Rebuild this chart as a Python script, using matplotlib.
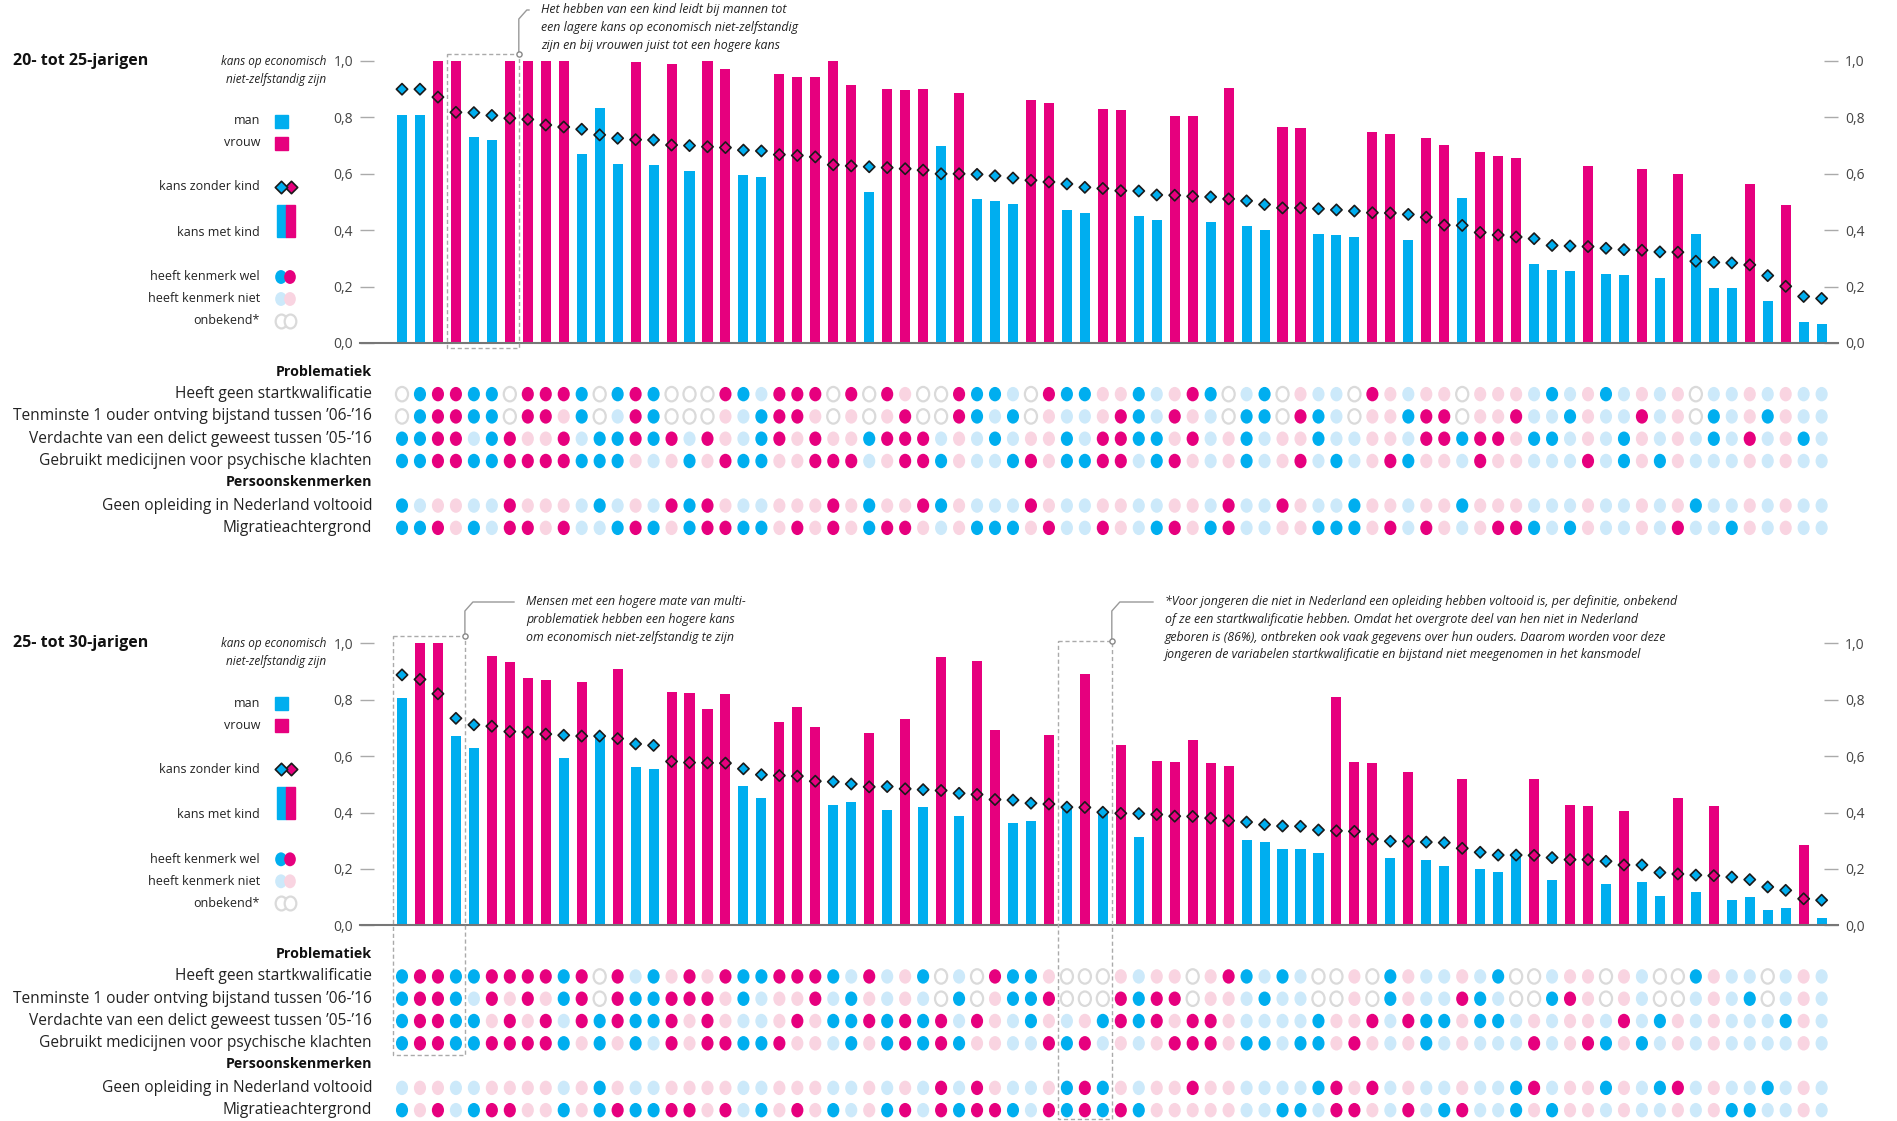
import numpy as np
import matplotlib
matplotlib.use("Agg")
import matplotlib.pyplot as plt
from matplotlib.path import Path
from matplotlib.patches import Rectangle

plt.rcParams['font.family'] = ['Open Sans', 'DejaVu Sans']

# -----------------------------
#  DATA
# -----------------------------
# m = man, v = vrouw (one letter per group, left to right)
TOP_SEX = ("mmvvmmvvvv" "mmmvmvmvvm" "mvvvvvmvvv" "mvmmmvvmmv"
           "vmmvvmvmmv" "vmmmvvmvvm" "vvvmmmvmmv" "mvmmmvmvmm")
BOT_SEX = ("mvvmmvvvvm" "vmvmmvvvvm" "mvvvmmvmvm" "vmvvmmvmvm"
           "vmvvvvvmmm" "mmvvvmvmmv" "mmmvmvvmvm" "mvmvmmmmvm")

# kans met kind (bars)
TOP_MET = [0.81, 0.81, 1.00, 1.00, 0.73, 0.72, 1.00, 1.00, 1.00, 1.00,
           0.67, 0.835, 0.635, 0.995, 0.63, 0.99, 0.61, 1.00, 0.97, 0.595,
           0.59, 0.955, 0.945, 0.945, 1.00, 0.915, 0.535, 0.90, 0.897, 0.90,
           0.697, 0.885, 0.509, 0.504, 0.494, 0.863, 0.852, 0.473, 0.461, 0.83,
           0.826, 0.449, 0.435, 0.804, 0.804, 0.428, 0.904, 0.414, 0.401, 0.766,
           0.764, 0.388, 0.383, 0.377, 0.748, 0.74, 0.366, 0.727, 0.703, 0.514,
           0.678, 0.664, 0.656, 0.28, 0.258, 0.257, 0.629, 0.246, 0.241, 0.616,
           0.232, 0.60, 0.387, 0.195, 0.195, 0.563, 0.15, 0.488, 0.076, 0.069]
# kans zonder kind (diamonds)
TOP_ZONDER = [0.90, 0.90, 0.872, 0.818, 0.817, 0.807, 0.797, 0.793, 0.773, 0.766,
              0.758, 0.738, 0.726, 0.721, 0.72, 0.702, 0.70, 0.696, 0.693, 0.684,
              0.681, 0.668, 0.665, 0.66, 0.632, 0.628, 0.625, 0.622, 0.618, 0.613,
              0.60, 0.60, 0.598, 0.593, 0.585, 0.577, 0.571, 0.564, 0.552, 0.548,
              0.54, 0.539, 0.525, 0.524, 0.52, 0.518, 0.511, 0.504, 0.491, 0.479,
              0.479, 0.476, 0.472, 0.468, 0.462, 0.461, 0.456, 0.446, 0.418, 0.417,
              0.392, 0.383, 0.376, 0.37, 0.346, 0.344, 0.342, 0.336, 0.331, 0.329,
              0.323, 0.322, 0.29, 0.286, 0.284, 0.277, 0.239, 0.201, 0.165, 0.158]

BOT_MET = [0.806, 1.00, 1.00, 0.673, 0.629, 0.954, 0.934, 0.877, 0.87, 0.594,
           0.863, 0.665, 0.908, 0.562, 0.556, 0.828, 0.824, 0.767, 0.821, 0.494,
           0.452, 0.721, 0.775, 0.704, 0.427, 0.438, 0.682, 0.41, 0.73, 0.42,
           0.952, 0.386, 0.936, 0.692, 0.364, 0.371, 0.675, 0.415, 0.89, 0.40,
           0.641, 0.314, 0.584, 0.58, 0.658, 0.574, 0.564, 0.303, 0.296, 0.27,
           0.269, 0.256, 0.808, 0.58, 0.576, 0.237, 0.544, 0.233, 0.21, 0.519,
           0.198, 0.188, 0.245, 0.519, 0.159, 0.425, 0.424, 0.145, 0.406, 0.152,
           0.105, 0.452, 0.117, 0.423, 0.091, 0.10, 0.053, 0.061, 0.283, 0.027]
BOT_ZONDER = [0.888, 0.872, 0.821, 0.734, 0.711, 0.706, 0.687, 0.685, 0.678, 0.674,
              0.671, 0.671, 0.662, 0.643, 0.638, 0.581, 0.577, 0.576, 0.575, 0.555,
              0.534, 0.531, 0.529, 0.511, 0.509, 0.501, 0.491, 0.492, 0.484, 0.481,
              0.478, 0.468, 0.464, 0.446, 0.444, 0.433, 0.43, 0.419, 0.418, 0.401,
              0.397, 0.396, 0.393, 0.387, 0.386, 0.38, 0.371, 0.366, 0.357, 0.352,
              0.351, 0.338, 0.335, 0.333, 0.306, 0.298, 0.298, 0.295, 0.293, 0.273,
              0.259, 0.249, 0.249, 0.248, 0.24, 0.233, 0.233, 0.227, 0.214, 0.214,
              0.187, 0.182, 0.178, 0.176, 0.171, 0.162, 0.136, 0.124, 0.094, 0.089]

# kenmerken: 1 = heeft kenmerk wel, 0 = niet, - = onbekend
TOP_STARTKWAL = "-11111-111" "1-111---11" "0111-1-10-" "-1110-1110" "010011-01-" "000-10000-" "0000100100" "00-0000000"
TOP_BIJSTAND = "-11111-110" "1-011---00" "1110-0-01-" "-1101-0000" "110100-11-" "110-00111-" "0010010001" "00-1001000"
TOP_DELICT = "1111011001" "0111110100" "1101001111" "0001000101" "1110100100" "0100000111" "1101100010" "0001010010"
TOP_MEDICIJN = "1111111111" "1110001011" "1001110011" "1000110111" "1011000100" "1010011000" "1000001010" "1000000000"
TOP_OPLEIDING = "1000001000" "0100011100" "0000101001" "1000010000" "0000001001" "0001000001" "0000000000" "0010000000"
TOP_MIGRATIE = "1110101101" "0011101111" "1010101110" "0011101001" "0011011000" "0111010100" "0111010000" "0100100000"

BOT_STARTKWAL = "1111111111" "1-10101011" "1111101001" "-0-1110---" "0000-01101" "0--0-10000" "01--000-00" "--1000-000"
BOT_BIJSTAND = "1111010101" "1-11111101" "0001010000" "-1-0111---" "1111-00010" "0--0-10001" "10--110-00" "--0001-000"
BOT_DELICT = "1111101010" "1111110100" "0010111111" "1010010001" "1110110000" "0100101110" "1100000010" "1000000100"
BOT_MEDICIJN = "1111111111" "0101010111" "1100010111" "1100001110" "0001110110" "1101000100" "0001001101" "0000000000"
BOT_OPLEIDING = "0000000000" "0100000000" "0000000000" "1010000111" "0000100000" "0110100000" "0011000100" "1100001000"
BOT_MIGRATIE = "1010111001" "0111111010" "1010100110" "1111101111" "1100000001" "1011001011" "0010100000" "0000110000"

PROBLEM_LABELS = ["Heeft geen startkwalificatie",
                  "Tenminste 1 ouder ontving bijstand tussen \u201906-\u201916",
                  "Verdachte van een delict geweest tussen \u201905-\u201916",
                  "Gebruikt medicijnen voor psychische klachten"]
PERSON_LABELS = ["Geen opleiding in Nederland voltooid", "Migratieachtergrond"]
YTICKS = [0.0, 0.2, 0.4, 0.6, 0.8, 1.0]

# -----------------------------
#  STYLE / LAYOUT
# -----------------------------
W, H = 1897, 1121
BLUE, PINK = "#00AEEF", "#E6007E"
LBLUE, LPINK = "#CCE9FA", "#F9D4E1"
GREY_RING = "#DADADA"
TXT = "#222222"

COL0, STEP = 402, 17.97        # pixel x of first group, pixel step per group
AX_L, AX_R = 360, 1838
XLIM = ((AX_L - COL0) / STEP, (AX_R - COL0) / STEP)

circ = Path.unit_circle()
ELLIPSE = Path(circ.vertices * np.array([0.84, 1.0]), circ.codes)

fig = plt.figure(figsize=(W / 100, H / 100), dpi=100)


def box(x0, y0, x1, y1):
    return [x0 / W, 1 - y1 / H, (x1 - x0) / W, (y1 - y0) / H]


def dot_colors(state, sex):
    if state == "-":
        return "white", GREY_RING, 1.6
    if state == "1":
        return (BLUE if sex == "m" else PINK), "none", 0
    return (LBLUE if sex == "m" else LPINK), "none", 0


def draw_panel(dy, sex, met, zonder, rows):
    n = len(met)
    x = np.arange(n)
    bar_c = [BLUE if s == "m" else PINK for s in sex]

    ax = fig.add_axes(box(AX_L, 61 + dy, AX_R, 343 + dy))
    ax.bar(x, met, width=0.56, color=bar_c, zorder=2, clip_on=False)
    ax.scatter(x, zonder, marker="D", s=33, c=bar_c, edgecolors="#1a1a1a",
               linewidths=1.2, zorder=3, clip_on=False)
    ax.set_xlim(*XLIM)
    ax.set_ylim(0, 1)
    for sp in ["top", "left", "right"]:
        ax.spines[sp].set_visible(False)
    ax.spines["bottom"].set_color("#777777")
    ax.spines["bottom"].set_linewidth(1.5)
    ax.set_xticks([])
    ax.set_yticks(YTICKS)
    ax.set_yticklabels([f"{v:.1f}".replace(".", ",") for v in YTICKS])
    ax.tick_params(axis="y", direction="in", length=10, width=1, color="#aaaaaa",
                   left=True, right=True, labelleft=True, labelright=True,
                   labelsize=10, labelcolor="#444444", pad=5)
    ax.patch.set_alpha(0)

    # dot matrix
    dax = fig.add_axes(box(AX_L, 383 + dy, AX_R, 539 + dy))
    dax.set_xlim(*XLIM)
    dax.set_ylim(6.5, -0.5)
    dax.axis("off")
    for r, states in zip([0, 1, 2, 3, 5, 6], rows):
        styles = [dot_colors(st, sx) for st, sx in zip(states, sex)]
        dax.scatter(x, [r] * n, marker=ELLIPSE, s=108,
                    facecolors=[s[0] for s in styles],
                    edgecolors=[s[1] for s in styles],
                    linewidths=[s[2] for s in styles], clip_on=False)


draw_panel(0, TOP_SEX, TOP_MET, TOP_ZONDER,
           [TOP_STARTKWAL, TOP_BIJSTAND, TOP_DELICT, TOP_MEDICIJN, TOP_OPLEIDING, TOP_MIGRATIE])
DY2 = 582.3
draw_panel(DY2, BOT_SEX, BOT_MET, BOT_ZONDER,
           [BOT_STARTKWAL, BOT_BIJSTAND, BOT_DELICT, BOT_MEDICIJN, BOT_OPLEIDING, BOT_MIGRATIE])

# overlay in pixel coordinates for texts, legend and annotations
ov = fig.add_axes([0, 0, 1, 1])
ov.set_xlim(0, W)
ov.set_ylim(H, 0)
ov.axis("off")

for dy, title in [(0, "20- tot 25-jarigen"), (DY2, "25- tot 30-jarigen")]:
    ov.text(13, 61 + dy, title, fontsize=11.5, fontweight="bold", color="#111111", va="center")
    ov.text(326, 61 + dy, "kans op economisch", fontsize=8.5, style="italic",
            color=TXT, ha="right", va="center")
    ov.text(326, 79 + dy, "niet-zelfstandig zijn", fontsize=8.5, style="italic",
            color=TXT, ha="right", va="center")

    leg = [("man", 121), ("vrouw", 143), ("kans zonder kind", 187), ("kans met kind", 232),
           ("heeft kenmerk wel", 277), ("heeft kenmerk niet", 299), ("onbekend*", 321)]
    for lab, yy in leg:
        ov.text(260, yy + dy, lab, fontsize=9, color=TXT, ha="right", va="center")
    ov.add_patch(Rectangle((275, 114.5 + dy), 13, 13, color=BLUE))
    ov.add_patch(Rectangle((275, 136.5 + dy), 13, 13, color=PINK))
    ov.scatter([291], [187 + dy], marker="D", s=40, c=PINK, edgecolors="#1a1a1a", linewidths=1.2)
    ov.scatter([281], [187 + dy], marker="D", s=40, c=BLUE, edgecolors="#1a1a1a", linewidths=1.2)
    ov.add_patch(Rectangle((277, 205 + dy), 9, 32, color=BLUE))
    ov.add_patch(Rectangle((286, 205 + dy), 9, 32, color=PINK))
    ov.scatter([281, 290], [277 + dy] * 2, marker=ELLIPSE, s=100, c=[BLUE, PINK], linewidths=0)
    ov.scatter([281, 290], [299 + dy] * 2, marker=ELLIPSE, s=100, c=[LBLUE, LPINK], linewidths=0)
    ov.scatter([281, 290], [321 + dy] * 2, marker=ELLIPSE, s=100, facecolors="white",
               edgecolors=GREY_RING, linewidths=1.6)

    ov.text(372, 372 + dy, "Problematiek", fontsize=10.3, fontweight="bold", color="#111111",
            ha="right", va="center")
    ov.text(372, 482 + dy, "Persoonskenmerken", fontsize=10.3, fontweight="bold", color="#111111",
            ha="right", va="center")
    for lab, yy in zip(PROBLEM_LABELS + PERSON_LABELS, [394, 416.5, 439, 461, 505.5, 528]):
        ov.text(372, yy + dy, lab, fontsize=11.2, color=TXT, ha="right", va="center")


def note_box(x0, x1, y0, y1, text_x, text_y, lines):
    ov.add_patch(Rectangle((x0, y0), x1 - x0, y1 - y0, fill=False, ls=(0, (3, 2)),
                           ec="#aaaaaa", lw=1))
    ov.plot([x1, x1, x1 + 8, text_x - 12], [y0, text_y + 9, text_y, text_y],
            color="#999999", lw=1)
    ov.scatter([x1], [y0], s=14, facecolors="white", edgecolors="#888888", linewidths=1, zorder=5)
    for i, ln in enumerate(lines):
        ov.text(text_x, text_y + i * 17.5, ln, fontsize=8.9, style="italic", color=TXT,
                va="center", ha="left")


note_box(COL0 + 2.5 * STEP, COL0 + 6.5 * STEP, 54, 348, 541, 10,
         ["Het hebben van een kind leidt bij mannen tot",
          "een lagere kans op economisch niet-zelfstandig",
          "zijn en bij vrouwen juist tot een hogere kans"])
note_box(COL0 - 0.5 * STEP, COL0 + 3.5 * STEP, 636, 1055, 526, 602,
         ["Mensen met een hogere mate van multi-",
          "problematiek hebben een hogere kans",
          "om economisch niet-zelfstandig te zijn"])
note_box(COL0 + 36.5 * STEP, COL0 + 39.5 * STEP, 641, 1119, 1165, 602,
         ["*Voor jongeren die niet in Nederland een opleiding hebben voltooid is, per definitie, onbekend",
          "of ze een startkwalificatie hebben. Omdat het overgrote deel van hen niet in Nederland",
          "geboren is (86%), ontbreken ook vaak gegevens over hun ouders. Daarom worden voor deze",
          "jongeren de variabelen startkwalificatie en bijstand niet meegenomen in het kansmodel"])

fig.savefig("out.png", dpi=100, facecolor="white")
